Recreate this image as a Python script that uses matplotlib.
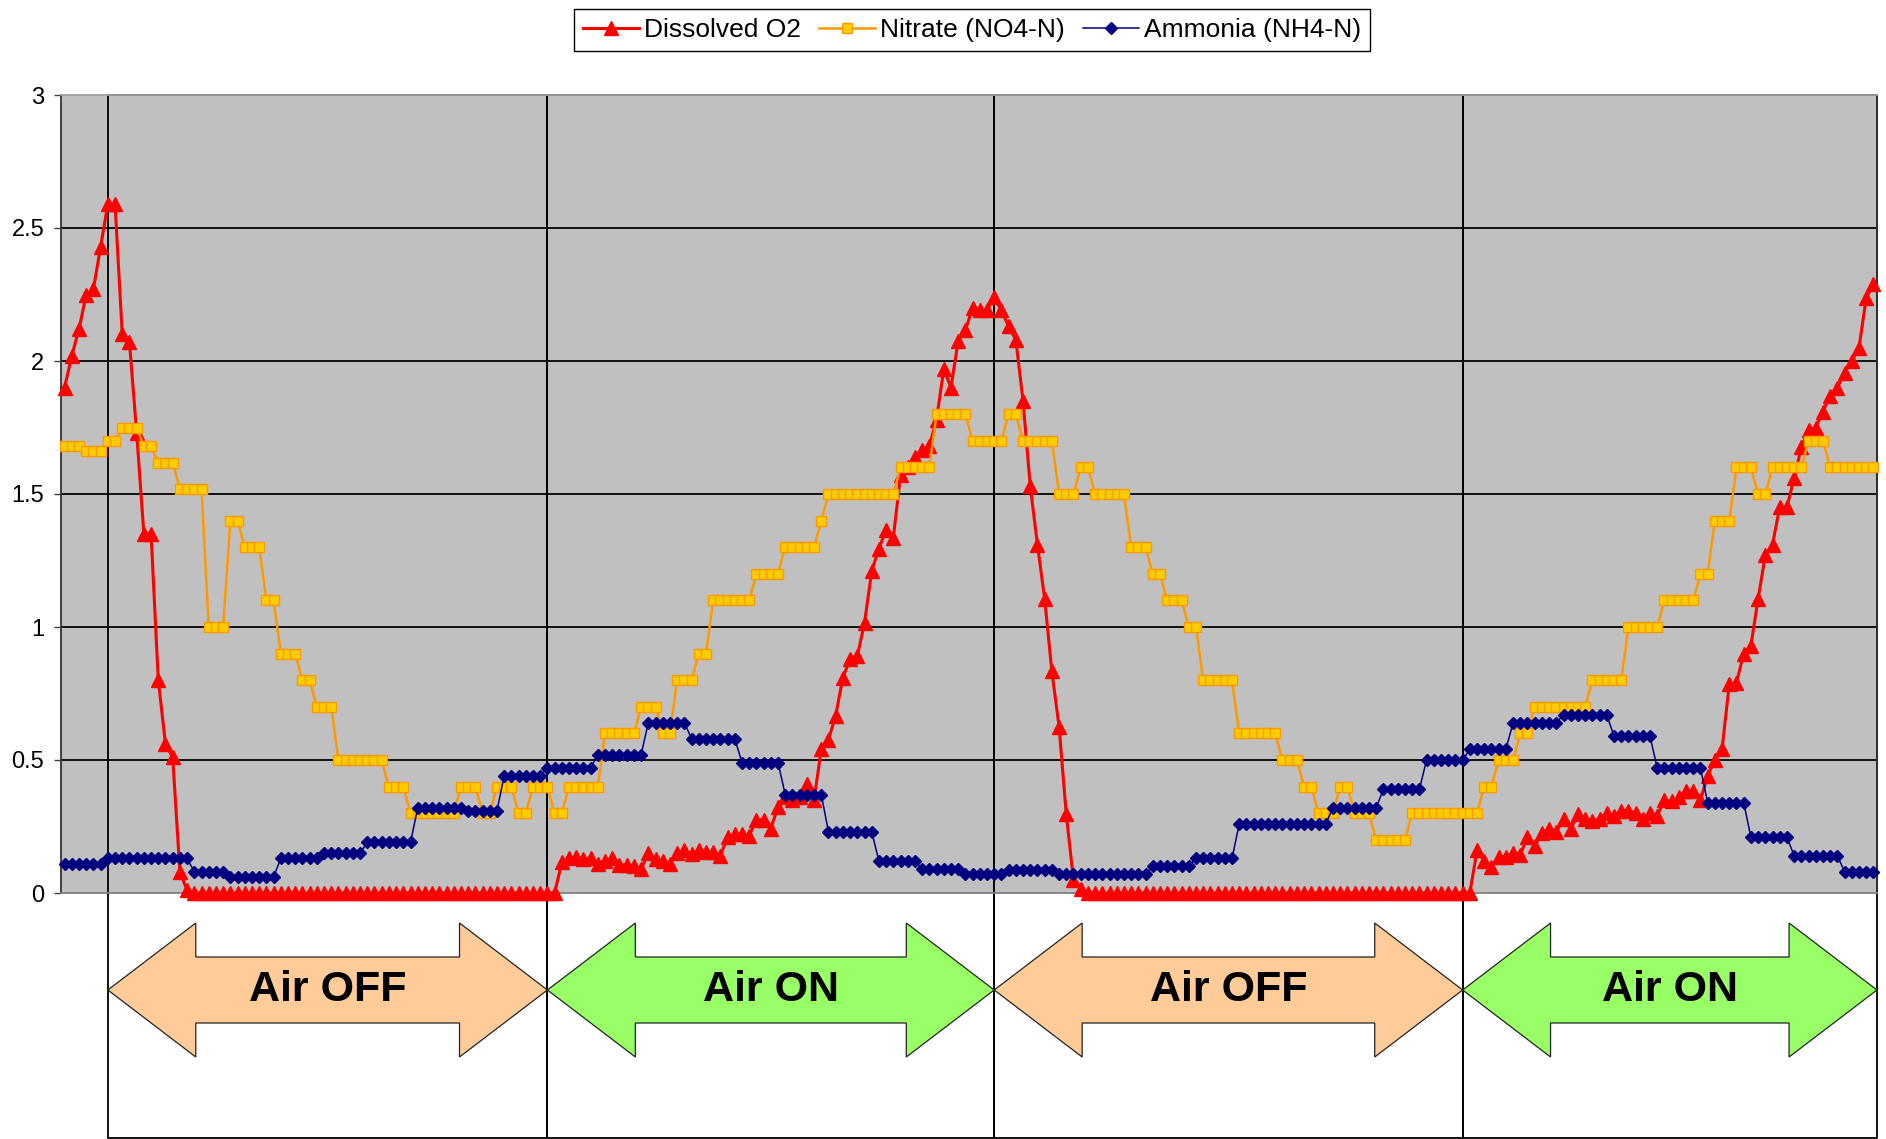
import numpy as np
import matplotlib.pyplot as plt
import matplotlib.patches as mpatches
import matplotlib.transforms as mtransforms

plt.rcParams['font.family'] = ['Liberation Sans', 'DejaVu Sans']

# Dissolved O2, one reading per sample
do_vals = ([1.90, 2.02, 2.12, 2.25, 2.27, 2.43, 2.59, 2.59, 2.10, 2.07,
            1.73, 1.35, 1.35, 0.80, 0.56, 0.51, 0.08, 0.01]
           + [0.0] * 51
           + [0.115, 0.13, 0.137, 0.126, 0.13, 0.11, 0.12, 0.13, 0.105, 0.105,
              0.10, 0.09, 0.15, 0.126, 0.12, 0.11, 0.15, 0.16, 0.146, 0.16,
              0.155, 0.153, 0.14, 0.21, 0.22, 0.22, 0.215, 0.276, 0.276, 0.242,
              0.324, 0.36, 0.35, 0.36, 0.41, 0.35]
           + [0.54, 0.577, 0.666, 0.81, 0.878, 0.89, 1.015, 1.21, 1.295, 1.364,
              1.336, 1.57, 1.60, 1.64, 1.665, 1.68, 1.78, 1.97, 1.90, 2.075,
              2.115, 2.20, 2.19, 2.19, 2.24, 2.19, 2.13, 2.08, 1.85, 1.53,
              1.31, 1.105, 0.833, 0.625, 0.296, 0.048, 0.016]
           + [0.0] * 54
           + [0.16, 0.12, 0.096, 0.136, 0.136, 0.152, 0.144, 0.21, 0.176, 0.224,
              0.24, 0.23, 0.28, 0.24, 0.296, 0.28, 0.27, 0.28, 0.30, 0.29,
              0.31, 0.31, 0.30, 0.28, 0.30, 0.29, 0.35, 0.345, 0.36, 0.385,
              0.385, 0.35, 0.44, 0.50, 0.54, 0.785, 0.79, 0.90, 0.93, 1.105,
              1.27, 1.31, 1.45, 1.45, 1.56, 1.675, 1.74, 1.75, 1.81, 1.87,
              1.90, 1.955, 2.0, 2.05, 2.235, 2.29])

# Nitrate: value held for a number of samples
nitrate_levels = [1.68, 1.66, 1.70, 1.75, 1.68, 1.615, 1.52, 1.00, 1.40, 1.30,
                  1.10, 0.90, 0.80, 0.70, 0.50, 0.40, 0.30, 0.40, 0.30, 0.40,
                  0.30, 0.40, 0.30, 0.40, 0.60, 0.70, 0.60, 0.80, 0.90, 1.10,
                  1.20, 1.30, 1.40, 1.50, 1.60, 1.80, 1.70, 1.80, 1.70, 1.50,
                  1.60, 1.50, 1.30, 1.20, 1.10, 1.00, 0.80, 0.60, 0.50, 0.40,
                  0.30, 0.40, 0.30, 0.20, 0.30, 0.40, 0.50, 0.60, 0.70, 0.80,
                  1.00, 1.10, 1.20, 1.40, 1.60, 1.50, 1.60, 1.70, 1.60]
nitrate_counts = [3, 3, 2, 3, 2, 3, 4, 3, 2, 3,
                  2, 3, 2, 3, 7, 3, 7, 3, 2, 3,
                  2, 3, 2, 5, 5, 3, 2, 3, 2, 6,
                  4, 5, 1, 10, 5, 5, 5, 2, 5, 3,
                  2, 5, 3, 2, 3, 2, 5, 6, 3, 2,
                  3, 2, 3, 5, 10, 2, 3, 2, 8, 5,
                  5, 5, 2, 3, 3, 2, 5, 3, 7]

# Ammonia: value held for a number of samples
ammonia_levels = [0.11, 0.13, 0.08, 0.06, 0.13, 0.15, 0.19, 0.32, 0.31, 0.44,
                  0.47, 0.52, 0.64, 0.58, 0.49, 0.37, 0.23, 0.12, 0.09, 0.07,
                  0.085, 0.07, 0.10, 0.13, 0.26, 0.32, 0.39, 0.50, 0.54, 0.64,
                  0.67, 0.59, 0.47, 0.34, 0.21, 0.14, 0.08]
ammonia_counts = [6, 12, 5, 7, 6, 6, 7, 7, 5, 6,
                  7, 7, 6, 7, 6, 6, 7, 6, 6, 6,
                  7, 13, 6, 6, 13, 7, 6, 6, 6, 7,
                  7, 6, 7, 6, 6, 7, 5]

# sample index where the aeration switches
switch_idx = [6, 67, 129, 194]
phase_labels = ['Air OFF', 'Air ON', 'Air OFF', 'Air ON']
phase_colors = ['#FFCC99', '#99FF66', '#FFCC99', '#99FF66']

y_ticks = [0, 0.5, 1, 1.5, 2, 2.5, 3]
y_labels = ['0', '0.5', '1', '1.5', '2', '2.5', '3']

nitrate = np.repeat(nitrate_levels, nitrate_counts)
ammonia = np.repeat(ammonia_levels, ammonia_counts)
N = len(do_vals)
x = np.arange(N)

W, H = 1886, 1139
fig = plt.figure(figsize=(W / 100, H / 100), dpi=100)
ax_bottom = 246 / H
ax_height = 798 / H
ax = fig.add_axes([61 / W, ax_bottom, 1816 / W, ax_height])
ax.set_facecolor('#C0C0C0')

for yv in y_ticks[1:-1]:
    ax.axhline(yv, color='#111111', lw=1.4, zorder=1)

ax.plot(x, do_vals, color='red', lw=2.2, marker='^', ms=9.5, mfc='red', mec='red',
        label='Dissolved O2', zorder=3, clip_on=False)
ax.plot(x, nitrate, color='#FF9900', lw=1.8, marker='s', ms=7.8, mfc='#FFCC00',
        mec='#FF9900', mew=1.0, label='Nitrate (NO4-N)', zorder=4, clip_on=False)
ax.plot(x, ammonia, color='#000080', lw=1.1, marker='D', ms=5.8, mfc='#000080',
        mec='#000080', label='Ammonia (NH4-N)', zorder=5, clip_on=False)

# boxes for each aeration phase, running down to the bottom of the figure
blend = mtransforms.blended_transform_factory(ax.transData, fig.transFigure)
top = ax_bottom + ax_height
edges = switch_idx + [N - 0.5]
yc = 1 - 990 / H
head_h = 67 / H
shaft_h = 33 / H
head_len = 12.2
for a, b, lab, col in zip(edges[:-1], edges[1:], phase_labels, phase_colors):
    rect = mpatches.Rectangle((a, 1.0 / H), b - a, top - 1.0 / H, transform=blend,
                              fill=False, ec='black', lw=1.3, clip_on=False, zorder=2.5)
    ax.add_patch(rect)
    pts = [(a, yc), (a + head_len, yc + head_h), (a + head_len, yc + shaft_h),
           (b - head_len, yc + shaft_h), (b - head_len, yc + head_h), (b, yc),
           (b - head_len, yc - head_h), (b - head_len, yc - shaft_h),
           (a + head_len, yc - shaft_h), (a + head_len, yc - head_h)]
    arrow = mpatches.Polygon(pts, closed=True, transform=blend, fc=col, ec='#222222',
                             lw=0.9, clip_on=False, zorder=6)
    ax.add_patch(arrow)
    ax.text((a + b) / 2, yc, lab, transform=blend, ha='center', va='center',
            fontsize=31, fontweight='bold', color='black', zorder=7)

ax.set_xlim(-0.5, N - 0.5)
ax.set_ylim(0, 3)
ax.set_xticks([])
ax.set_yticks(y_ticks)
ax.set_yticklabels(y_labels)
ax.tick_params(axis='y', direction='out', length=5, width=1, color='#404040',
               labelsize=17, pad=7)
ax.spines['left'].set_color('#333333')
ax.spines['top'].set_color('#A0A0A0')
ax.spines['bottom'].set_color('#808080')
ax.spines['right'].set_color('#333333')
for s in ax.spines.values():
    s.set_linewidth(1.3)

leg = ax.legend(loc='center', bbox_to_anchor=(0.5017, 1.0815), ncol=3, fontsize=19,
                numpoints=1, handlelength=2.1, handletextpad=0.2, columnspacing=0.7,
                borderpad=0.35, fancybox=False, edgecolor='black', framealpha=1)
leg.get_frame().set_linewidth(1.0)

plt.savefig('out.png', dpi=100)
